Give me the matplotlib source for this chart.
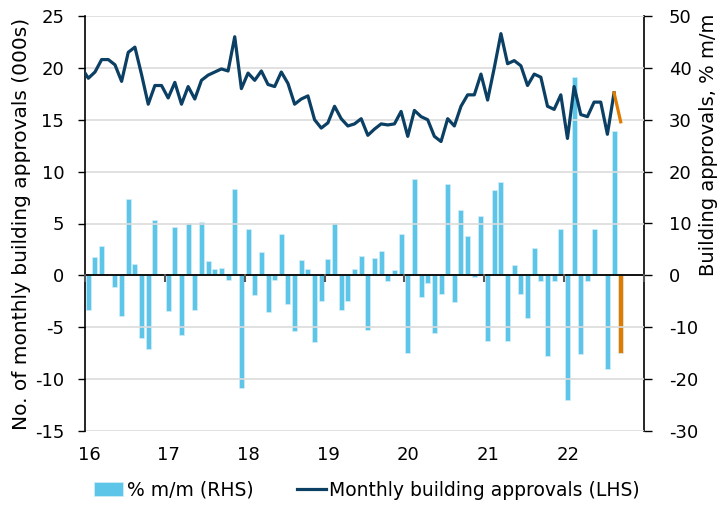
import numpy as np
import matplotlib
matplotlib.use('Agg')
import matplotlib.pyplot as plt
import matplotlib.transforms as mtransforms

plt.rcParams['axes.unicode_minus'] = False

# Monthly building approvals (000s), Dec 2015 - Sep 2022
approvals = [20.0,
             19.0, 19.6, 20.8, 20.8, 20.3, 18.7, 21.5, 22.0, 19.35, 16.5, 18.3, 18.3,
             17.1, 18.6, 16.5, 18.2, 17.0, 18.8, 19.3, 19.6, 19.9, 19.7, 23.0, 18.0,
             19.5, 18.8, 19.7, 18.4, 18.2, 19.6, 18.5, 16.5, 17.0, 17.3, 15.0, 14.2,
             14.7, 16.3, 15.1, 14.4, 14.6, 15.1, 13.5, 14.1, 14.6, 14.5, 14.6, 15.8,
             13.4, 15.9, 15.3, 15.0, 13.4, 12.9, 15.1, 14.4, 16.3, 17.4, 17.4, 19.4,
             16.9, 20.0, 23.3, 20.4, 20.7, 20.2, 18.3, 19.4, 19.1, 16.3, 16.0, 17.4,
             13.2, 18.2, 15.5, 15.3, 16.7, 16.7, 13.6, 17.6, 14.8]

# % m/m change, Jan 2016 - Sep 2022
pct_mm = [-6.6, 3.5, 5.6, 0.25, -2.2, -7.8, 14.8, 2.2, -12.1, -14.2, 10.6, 0.2,
          -6.9, 9.4, -11.5, 10.1, -6.6, 10.3, 2.7, 1.3, 1.5, -0.8, 16.6, -21.7,
          8.9, -3.7, 4.6, -7.1, -0.8, 7.9, -5.5, -10.8, 2.9, 1.2, -12.8, -4.9,
          3.1, 10.1, -6.6, -4.9, 1.3, 3.7, -10.5, 3.3, 4.7, -1.1, 1.1, 8.0,
          -14.9, 18.5, -4.1, -1.4, -11.2, -3.5, 17.7, -5.1, 12.6, 7.6, -0.4, 11.4,
          -12.6, 16.4, 18.0, -12.6, 2.0, -3.6, -8.3, 5.2, -1.1, -15.5, -1.0, 8.9,
          -24.1, 38.3, -15.1, -1.1, 9.0, 0.2, -18.1, 27.9, -14.9]

year_ticks = [2016, 2017, 2018, 2019, 2020, 2021, 2022, 2023]
year_labels = ['16', '17', '18', '19', '20', '21', '22', '']

navy = '#0b3f63'
sky = '#5cc5e8'
orange = '#e07b00'

# mid-month positions in fractional years
x_bar = 2016 + (np.arange(len(pct_mm)) + 0.5) / 12
x_line = 2016 + (np.arange(len(approvals)) - 0.5) / 12

fig = plt.figure(figsize=(7.2, 5.05), dpi=100)
ax = fig.add_axes([85 / 720, 1 - 431 / 505, (644 - 85) / 720, 415 / 505])
ax2 = ax.twinx()

# bars on the right axis
bar_colors = [sky] * (len(pct_mm) - 1) + [orange]
bars = ax2.bar(x_bar, pct_mm, width=0.75 / 12, color=bar_colors,
               edgecolor='#d4eff9', linewidth=0.5, zorder=2)

# line on the left axis (drawn above the bars)
ax.set_zorder(ax2.get_zorder() + 1)
ax.patch.set_visible(False)
line, = ax.plot(x_line[:-1], approvals[:-1], color=navy, lw=2.3, zorder=3)
ax.plot(x_line[-2:], approvals[-2:], color=orange, lw=2.3, zorder=3)

ax.set_xlim(2016, 2023)
ax.set_ylim(-15, 25)
ax2.set_ylim(-30, 50)
ax.set_yticks(range(-15, 26, 5))
ax2.set_yticks(range(-30, 51, 10))

ax.yaxis.grid(True, color='#dcdcdc', lw=1.2)
ax.set_axisbelow(True)
ax.axhline(0, color='black', lw=1.3, zorder=4)

for a in (ax, ax2):
    a.spines['top'].set_visible(False)
    a.spines['bottom'].set_visible(False)
ax.spines['right'].set_visible(False)
ax2.spines['left'].set_visible(False)
ax.spines['left'].set_linewidth(1.2)
ax2.spines['right'].set_linewidth(1.2)

ax.set_xticks(year_ticks)
ax.set_xticklabels(year_labels)
ax.tick_params(axis='x', direction='out', length=0, labelsize=13, pad=11)
# small year tick marks on the zero line
ax.plot(year_ticks, [0] * len(year_ticks), linestyle='none', marker='|',
        markersize=6, color='#555555', markeredgewidth=1.5,
        transform=ax.transData + mtransforms.ScaledTranslation(0, -0.03, fig.dpi_scale_trans),
        clip_on=False, zorder=4)
offset = mtransforms.ScaledTranslation(0.04, 0, fig.dpi_scale_trans)
for lab in ax.get_xticklabels():
    lab.set_transform(lab.get_transform() + offset)

ax.tick_params(axis='y', direction='out', length=5, width=1, labelsize=13, pad=10)
ax2.tick_params(axis='y', direction='out', length=6, width=1, labelsize=13, pad=12)

ax.set_ylabel('No. of monthly building approvals (000s)', fontsize=14.5)
ax.yaxis.set_label_coords(-0.097, 0.5)
ax2.set_ylabel('Building approvals, % m/m', fontsize=14)
ax2.yaxis.set_label_coords(1.098, 0.69)

fig.legend([bars, line], ['% m/m (RHS)', 'Monthly building approvals (LHS)'],
           loc='center', bbox_to_anchor=(367 / 720, 1 - 490 / 505), ncol=2,
           frameon=False, fontsize=13.5, handlelength=1.55, handletextpad=0.2,
           columnspacing=2.3)

fig.savefig('out.png', dpi=100)
